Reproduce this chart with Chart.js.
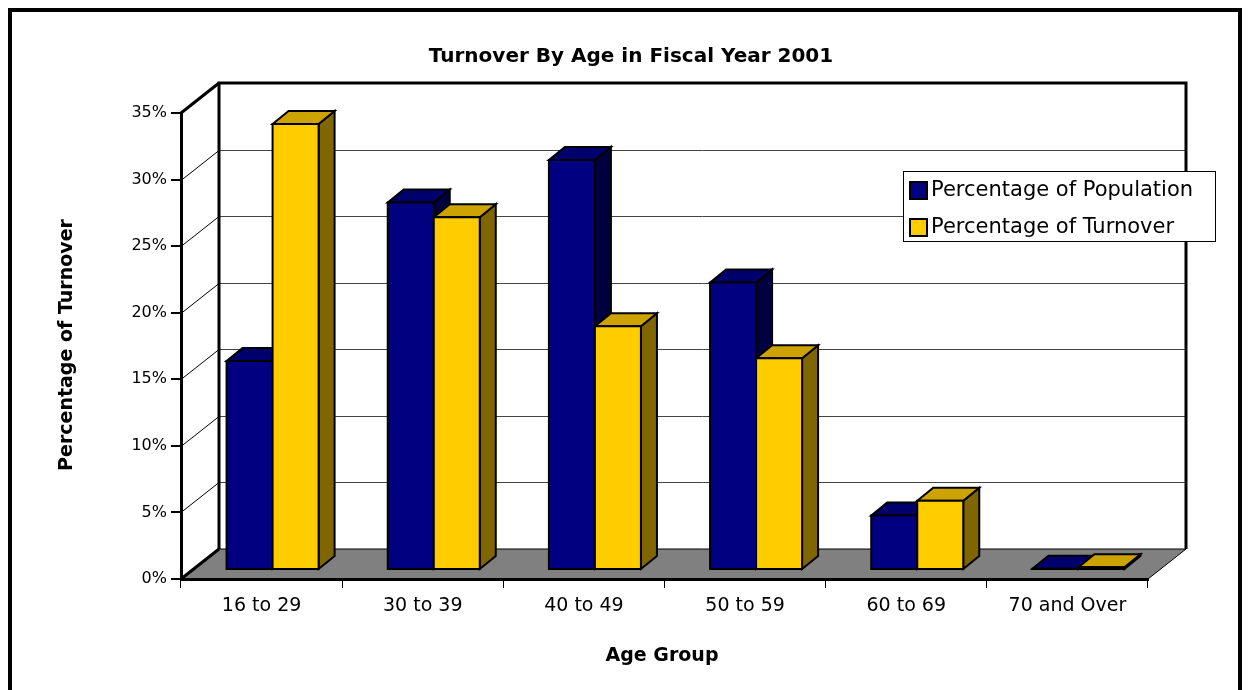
<!DOCTYPE html>
<html>
<head>
<meta charset="utf-8">
<title>Turnover By Age in Fiscal Year 2001</title>
<script src="https://cdn.jsdelivr.net/npm/chart.js@4/dist/chart.umd.min.js"></script>
<style>
  html, body { margin: 0; padding: 0; background: #fff; }
  canvas { display: block; }
</style>
</head>
<body>
<canvas id="turnoverChart" width="1248" height="690"></canvas>
<script>
// Dados do gráfico
const ageGroups = ['16 to 29', '30 to 39', '40 to 49', '50 to 59', '60 to 69', '70 and Over'];
const populationPct = [15.7, 27.6, 30.8, 21.6, 4.1, 0.1];
const turnoverPct = [33.5, 26.5, 18.3, 15.9, 5.2, 0.2];
const seriesNames = ['Percentage of Population', 'Percentage of Turnover'];
const yTicks = [0, 5, 10, 15, 20, 25, 30, 35];

const FONT = '"DejaVu Sans", sans-serif';

// profundidade das paredes e das barras (efeito 3D)
const WALL_DX = 38, WALL_DY = -30;
const BAR_OX = 11, BAR_OY = -9;
const BAR_DX = 16, BAR_DY = -13;

// cores: frente, topo, lado
const shades = [
  { front: '#000080', top: '#00006c', side: '#000040' },
  { front: '#ffcc00', top: '#cca300', side: '#806600' }
];

function poly(ctx, pts) {
  ctx.beginPath();
  ctx.moveTo(pts[0][0], pts[0][1]);
  for (let i = 1; i < pts.length; i++) ctx.lineTo(pts[i][0], pts[i][1]);
  ctx.closePath();
}

function seg(ctx, x1, y1, x2, y2, w, color) {
  ctx.lineWidth = w;
  ctx.strokeStyle = color;
  ctx.beginPath();
  ctx.moveTo(x1, y1);
  ctx.lineTo(x2, y2);
  ctx.stroke();
}

// Paredes, piso e linhas de grade
const backdrop = {
  id: 'backdrop',
  beforeDraw(chart) {
    const { ctx, chartArea: a } = chart;
    const y = chart.scales.y;
    ctx.save();
    ctx.fillStyle = '#fff';
    ctx.fillRect(0, 0, chart.width, chart.height);

    // moldura externa
    ctx.strokeStyle = '#000';
    ctx.lineWidth = 4;
    ctx.beginPath();
    ctx.moveTo(10, 700);
    ctx.lineTo(10, 10);
    ctx.lineTo(1240, 10);
    ctx.lineTo(1240, 700);
    ctx.stroke();

    // piso
    ctx.fillStyle = '#808080';
    poly(ctx, [[a.left, a.bottom], [a.right, a.bottom], [a.right + WALL_DX, a.bottom + WALL_DY], [a.left + WALL_DX, a.bottom + WALL_DY]]);
    ctx.fill();

    // grade: diagonal na parede lateral + horizontal na parede de fundo
    yTicks.forEach(v => {
      if (v === 0 || v === 35) return;
      const py = Math.round(y.getPixelForValue(v)) + 0.5;
      seg(ctx, a.left, py, a.left + WALL_DX, py + WALL_DY, 1, '#000');
      seg(ctx, a.left + WALL_DX, py + WALL_DY, a.right + WALL_DX, py + WALL_DY, 1, '#444');
    });

    // bordas do piso
    seg(ctx, a.left + WALL_DX, a.bottom + WALL_DY, a.right + WALL_DX, a.bottom + WALL_DY, 1, '#000');
    seg(ctx, a.right, a.bottom, a.right + WALL_DX, a.bottom + WALL_DY, 1, '#000');
    seg(ctx, a.left, a.bottom, a.left + WALL_DX, a.bottom + WALL_DY, 3, '#000');

    // parede de fundo e topo da lateral
    ctx.lineWidth = 3;
    ctx.strokeStyle = '#000';
    ctx.beginPath();
    ctx.moveTo(a.left + WALL_DX, a.bottom + WALL_DY);
    ctx.lineTo(a.left + WALL_DX, a.top + WALL_DY);
    ctx.lineTo(a.right + WALL_DX, a.top + WALL_DY);
    ctx.lineTo(a.right + WALL_DX, a.bottom + WALL_DY);
    ctx.stroke();
    seg(ctx, a.left, a.top, a.left + WALL_DX, a.top + WALL_DY, 3, '#000');
    ctx.restore();
  },

  // barras 3D desenhadas a partir dos elementos do Chart.js
  beforeDatasetsDraw(chart) {
    const ctx = chart.ctx;
    const metas = chart.data.datasets.map((d, i) => chart.getDatasetMeta(i));
    ctx.save();
    ctx.lineWidth = 2;
    ctx.strokeStyle = '#000';
    ctx.lineJoin = 'miter';
    for (let j = 0; j < ageGroups.length; j++) {
      metas.forEach((meta, i) => {
        const bar = meta.data[j];
        const c = shades[i];
        const L = bar.x - bar.width / 2 + BAR_OX;
        const R = bar.x + bar.width / 2 + BAR_OX;
        const T = bar.y + BAR_OY;
        const B = bar.base + BAR_OY;
        // lado
        poly(ctx, [[R, T], [R + BAR_DX, T + BAR_DY], [R + BAR_DX, B + BAR_DY], [R, B]]);
        ctx.fillStyle = c.side; ctx.fill(); ctx.stroke();
        // topo
        poly(ctx, [[L, T], [L + BAR_DX, T + BAR_DY], [R + BAR_DX, T + BAR_DY], [R, T]]);
        ctx.fillStyle = c.top; ctx.fill(); ctx.stroke();
        // frente
        poly(ctx, [[L, T], [R, T], [R, B], [L, B]]);
        ctx.fillStyle = c.front; ctx.fill(); ctx.stroke();
      });
    }
    ctx.restore();
    return false;
  },

  // títulos e legenda
  afterDraw(chart) {
    const ctx = chart.ctx;
    ctx.save();
    ctx.fillStyle = '#000';
    ctx.textAlign = 'center';
    ctx.textBaseline = 'middle';
    ctx.font = 'bold 20px ' + FONT;
    ctx.fillText('Turnover By Age in Fiscal Year 2001', 631, 57);
    ctx.font = 'bold 19px ' + FONT;
    ctx.fillText('Age Group', 662, 656);
    ctx.save();
    ctx.translate(67, 345);
    ctx.rotate(-Math.PI / 2);
    ctx.fillText('Percentage of Turnover', 0, 0);
    ctx.restore();

    // legenda
    ctx.fillStyle = '#fff';
    ctx.fillRect(903, 171, 312, 70);
    ctx.lineWidth = 1;
    ctx.strokeStyle = '#000';
    ctx.strokeRect(903.5, 171.5, 312, 70);
    ctx.textAlign = 'left';
    ctx.font = '21px ' + FONT;
    chart.data.datasets.forEach((ds, i) => {
      const cy = 190 + i * 37;
      ctx.fillStyle = ds.backgroundColor;
      ctx.fillRect(910, cy - 8, 17, 17);
      ctx.lineWidth = 2;
      ctx.strokeRect(910, cy - 8, 17, 17);
      ctx.fillStyle = '#000';
      ctx.fillText(ds.label, 931, cy + 1);
    });
    ctx.restore();
  }
};

const ctx = document.getElementById('turnoverChart').getContext('2d');
const turnoverChart = new Chart(ctx, {
  type: 'bar',
  data: {
    labels: ageGroups,
    datasets: [
      { label: seriesNames[0], data: populationPct, backgroundColor: shades[0].front },
      { label: seriesNames[1], data: turnoverPct, backgroundColor: shades[1].front }
    ]
  },
  options: {
    responsive: false,
    animation: false,
    layout: { padding: { top: 113, right: 100, bottom: 0, left: 0 } },
    datasets: { bar: { categoryPercentage: 0.571, barPercentage: 1 } },
    plugins: {
      legend: { display: false },
      title: { display: false },
      tooltip: { enabled: false }
    },
    scales: {
      x: {
        grid: { display: true, drawOnChartArea: false, drawTicks: true, tickLength: 9, color: '#000', lineWidth: 1, offset: true },
        border: { display: true, color: '#000', width: 3 },
        ticks: { color: '#000', font: { family: FONT, size: 19 }, padding: 7, maxRotation: 0 },
        afterFit(scale) { scale.height = 111; }
      },
      y: {
        min: 0,
        max: 35,
        grid: { display: true, drawOnChartArea: false, drawTicks: true, tickLength: 10, color: '#000', lineWidth: 2 },
        border: { display: true, color: '#000', width: 3 },
        ticks: {
          stepSize: 5,
          color: '#000',
          padding: 4,
          font: { family: FONT, size: 16 },
          callback: v => v + '%'
        },
        afterFit(scale) { scale.width = 181; }
      }
    }
  },
  plugins: [backdrop]
});
</script>
</body>
</html>
